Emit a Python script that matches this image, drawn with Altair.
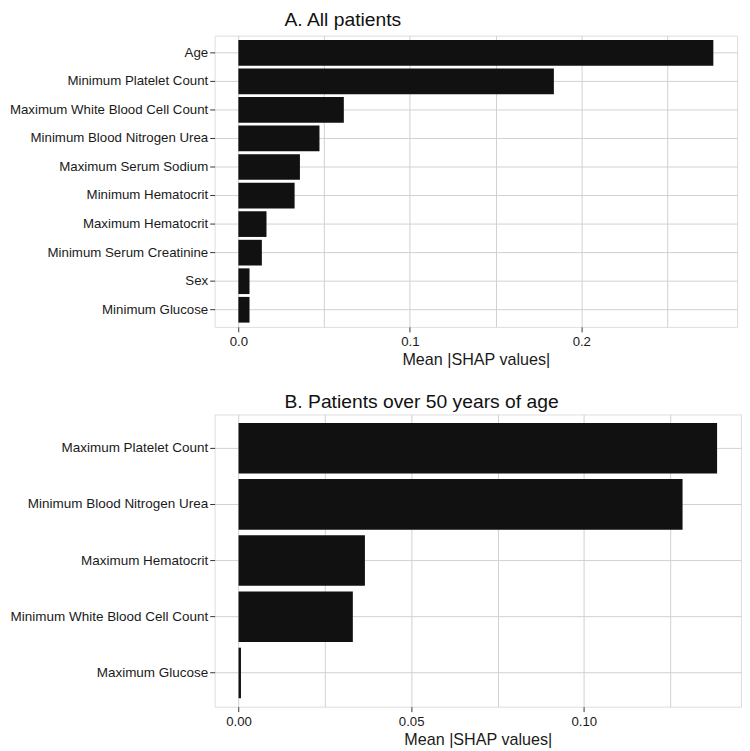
import altair as alt
import pandas as pd

# Panel A data
feat_a = ["Age", "Minimum Platelet Count", "Maximum White Blood Cell Count",
          "Minimum Blood Nitrogen Urea", "Maximum Serum Sodium", "Minimum Hematocrit",
          "Maximum Hematocrit", "Minimum Serum Creatinine", "Sex", "Minimum Glucose"]
shap_a = [0.277, 0.184, 0.0615, 0.0473, 0.0359, 0.0328, 0.0164, 0.0137, 0.0065, 0.0065]

# Panel B data
feat_b = ["Maximum Platelet Count", "Minimum Blood Nitrogen Urea", "Maximum Hematocrit",
          "Minimum White Blood Cell Count", "Maximum Glucose"]
shap_b = [0.1386, 0.1286, 0.0366, 0.0331, 0.0007]

grid_a = [0.0, 0.05, 0.1, 0.15, 0.2, 0.25]
grid_b = [0.0, 0.025, 0.05, 0.075, 0.1, 0.125]

title_a = "A. All patients"
title_b = "B. Patients over 50 years of age"
x_title = "Mean |SHAP values|"

df_a = pd.DataFrame({"feature": feat_a, "value": shap_a})
df_b = pd.DataFrame({"feature": feat_b, "value": shap_b})

FONT = "Liberation Sans"
GRID = "#d0d0d0"
TEXT = "#1a1a1a"


def panel(df, feats, grid_vals, major_test, fmt, domain, title, dx, offset, w, h, yfont):
    x_axis = alt.Axis(
        values=grid_vals,
        labelExpr=f"({major_test}) ? format(datum.value, '{fmt}') : ''",
        tickOpacity={"condition": {"test": f"!({major_test})", "value": 0}, "value": 1},
        title=x_title,
        titleFontSize=16.4, titleFontWeight="normal", titleColor=TEXT, titleFont=FONT,
        titlePadding=4,
        labelFontSize=13.4, labelColor=TEXT, labelFont=FONT, labelPadding=3,
        tickSize=5, tickColor="#333333", tickWidth=1,
        grid=True, gridColor=GRID, gridWidth=1,
        domain=False,
    )
    y_axis = alt.Axis(
        title=None,
        labelFontSize=yfont, labelColor=TEXT, labelFont=FONT, labelPadding=2, labelLimit=400,
        tickSize=5, tickColor="#333333", tickWidth=1,
        grid=True, gridColor=GRID, gridWidth=1,
        domain=False,
    )
    return alt.Chart(df).mark_bar(color="#111111").encode(
        x=alt.X("value:Q", scale=alt.Scale(domain=domain, nice=False, zero=False), axis=x_axis),
        y=alt.Y("feature:N", sort=feats,
                scale=alt.Scale(paddingInner=0.1, paddingOuter=0.15), axis=y_axis),
    ).properties(
        width=w, height=h,
        title=alt.TitleParams(title, anchor="start", dx=dx, fontSize=19.6, fontWeight="normal",
                              font=FONT, color="#111111", baseline="alphabetic",
                              offset=offset, frame="group"),
    )


chart_a = panel(df_a, feat_a, grid_a, "round(datum.value*100) % 10 == 0", ".1f",
                [-0.01385, 0.29085], title_a, 71, -10, 531, 296, 13.5)
chart_b = panel(df_b, feat_b, grid_b, "round(datum.value*1000) % 50 == 0", ".2f",
                [-0.00693, 0.14553], title_b, 71, -13, 535, 297, 13.7)

chart = alt.concat(chart_a, chart_b, columns=1, spacing=22, align="none").properties(
    padding={"left": 0, "top": -5, "right": 0, "bottom": 0}
).configure_view(stroke="#333333", strokeWidth=1).configure(background="white")

chart.save("out.html", embed_options={"renderer": "svg", "actions": False})
